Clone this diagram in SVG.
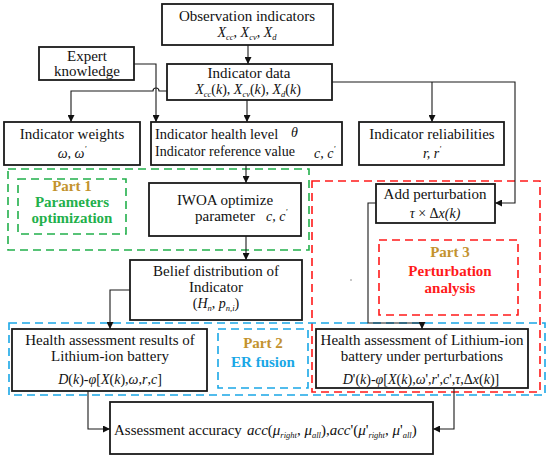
<svg xmlns="http://www.w3.org/2000/svg" width="550" height="457" viewBox="0 0 550 457">
<style>
.box{fill:#fff;stroke:#1a1a1a;stroke-width:1.8}
.ln{fill:none;stroke:#1a1a1a;stroke-width:1.1}
text{font-family:'Liberation Serif','DejaVu Serif',serif}
.t{font-size:15px;fill:#111}
.m{font-size:14px;font-style:italic;fill:#111}
.up{font-style:normal}
.s{font-size:8.5px}
.c{text-anchor:middle}
.b{font-size:15px;font-weight:bold;text-anchor:middle}
.gold{fill:#C3922E}
.dg{fill:none;stroke:#22B04B;stroke-width:1.6;stroke-dasharray:8 5}
.dr{fill:none;stroke:#FF1A1A;stroke-width:1.6;stroke-dasharray:8 5}
.db{fill:none;stroke:#1AA7E6;stroke-width:1.6;stroke-dasharray:8 5}
</style>
<defs>
<marker id="ah" viewBox="0 0 8 8" refX="8" refY="4" markerWidth="7" markerHeight="7" markerUnits="userSpaceOnUse" orient="auto">
<path d="M0,0 L8,4 L0,8 Z" fill="#111"/>
</marker>
</defs>
<rect width="550" height="457" fill="#fff"/>

<!-- dashed part regions -->
<g id="part1">
<rect class="dg" x="8" y="169" width="301" height="81"/>
<rect class="dg" x="18" y="179" width="108" height="55"/>
<text class="b gold" x="72" y="191">Part 1</text>
<text class="b" x="72" y="207" fill="#22B04B">Parameters</text>
<text class="b" x="72" y="223" fill="#22B04B">optimization</text>
</g>
<g id="part3">
<rect class="dr" x="312" y="181" width="228" height="211"/>
<rect class="dr" x="379" y="240" width="139" height="75"/>
<text class="b gold" x="450" y="257">Part 3</text>
<text class="b" x="450" y="276" fill="#FF1A1A">Perturbation</text>
<text class="b" x="450" y="293" fill="#FF1A1A">analysis</text>
</g>
<g id="part2">
<rect class="db" x="9" y="323" width="536" height="72"/>
<rect class="db" x="218" y="329" width="90" height="59"/>
<text class="b gold" x="263" y="348">Part 2</text>
<text class="b" x="263" y="367" fill="#1AA7E6">ER fusion</text>
</g>

<!-- connectors -->
<g id="connectors">
<path class="ln" d="M248,45 V64" marker-end="url(#ah)"/>
<path class="ln" d="M134,64 H156 V122" marker-end="url(#ah)"/>
<path class="ln" d="M167,91 H159 A3,3 0 0 0 153,91 H71 V122" marker-end="url(#ah)"/>
<path class="ln" d="M247,100 V122" marker-end="url(#ah)"/>
<path class="ln" d="M332,82 H515 V203 H495" marker-end="url(#ah)"/>
<path class="ln" d="M432,82 V122" marker-end="url(#ah)"/>
<path class="ln" d="M246,165 V183" marker-end="url(#ah)"/>
<path class="ln" d="M246,236 V260" marker-end="url(#ah)"/>
<path class="ln" d="M130,290 H110 V329" marker-end="url(#ah)"/>
<path class="ln" d="M376,203 H368 V323 H422 V329" marker-end="url(#ah)"/>
<path class="ln" d="M88,391 V429 H110" marker-end="url(#ah)"/>
<path class="ln" d="M454,388 V429 H433" marker-end="url(#ah)"/>
</g>

<g id="observation">
<rect class="box" x="162" y="4" width="171" height="41"/>
<text class="t c" x="247" y="21">Observation indicators</text>
<text class="m c" x="247" y="37">X<tspan class="s" dy="3">cc</tspan><tspan dy="-3" class="up">, </tspan>X<tspan class="s" dy="3">cv</tspan><tspan dy="-3" class="up">, </tspan>X<tspan class="s" dy="3">d</tspan></text>
</g>

<g id="expert">
<rect class="box" x="39" y="47" width="95" height="33"/>
<text class="t c" x="87" y="61">Expert</text>
<text class="t c" x="87" y="76">knowledge</text>
</g>

<g id="indicator-data">
<rect class="box" x="167" y="64" width="165" height="36"/>
<text class="t c" x="249" y="78">Indicator data</text>
<text class="m c" x="248" y="94">X<tspan class="s" dy="3">cc</tspan><tspan dy="-3" class="up">(</tspan><tspan>k</tspan><tspan class="up">), </tspan><tspan>X</tspan><tspan class="s" dy="3">cv</tspan><tspan dy="-3" class="up">(</tspan><tspan>k</tspan><tspan class="up">), </tspan><tspan>X</tspan><tspan class="s" dy="3">d</tspan><tspan dy="-3" class="up">(</tspan><tspan>k</tspan><tspan class="up">)</tspan></text>
</g>

<g id="weights">
<rect class="box" x="4" y="122" width="136" height="43"/>
<text class="t c" x="72" y="139">Indicator weights</text>
<text class="m c" x="72" y="158">ω, ω<tspan class="s" dy="-6">'</tspan></text>
</g>

<g id="health-level">
<rect class="box" x="151" y="122" width="191" height="43"/>
<text class="t" x="155" y="139" style="font-size:14.5px">Indicator health level</text>
<text class="m" x="291" y="137">θ</text>
<text class="t" x="155" y="156" style="font-size:14px">Indicator reference value</text>
<text class="m" x="314" y="158">c, c<tspan class="s" dy="-6">'</tspan></text>
</g>

<g id="reliabilities">
<rect class="box" x="359" y="122" width="145" height="43"/>
<text class="t c" x="432" y="139">Indicator reliabilities</text>
<text class="m c" x="432" y="158">r, r<tspan class="s" dy="-6">'</tspan></text>
</g>

<g id="iwoa">
<rect class="box" x="149" y="183" width="152" height="53"/>
<text class="t c" x="225" y="205">IWOA optimize</text>
<text class="t" x="195" y="221">parameter</text>
<text class="m" x="266" y="221">c, c<tspan class="s" dy="-6">'</tspan></text>
</g>

<g id="perturbation">
<rect class="box" x="376" y="184" width="119" height="39"/>
<text class="t c" x="435" y="199">Add perturbation</text>
<text class="m c" x="435" y="218">τ <tspan class="up">×</tspan> <tspan class="up">Δ</tspan>x(k)</text>
</g>

<g id="belief">
<rect class="box" x="130" y="260" width="172" height="60"/>
<text class="t c" x="216" y="276">Belief distribution of</text>
<text class="t c" x="216" y="292">Indicator</text>
<text class="m c" x="216" y="308"><tspan class="up">(</tspan>H<tspan class="s" dy="3">n</tspan><tspan dy="-3" class="up">, </tspan>p<tspan class="s" dy="3">n,i</tspan><tspan dy="-3" class="up">)</tspan></text>
</g>

<g id="health-results">
<rect class="box" x="12" y="329" width="195" height="62"/>
<text class="t c" x="110" y="345">Health assessment results of</text>
<text class="t c" x="110" y="361">Lithium-ion battery</text>
<text class="m c" x="110" y="384">D<tspan class="up">(</tspan>k<tspan class="up">)-</tspan>φ<tspan class="up">[</tspan>X<tspan class="up">(</tspan>k<tspan class="up">),</tspan>ω<tspan class="up">,</tspan>r<tspan class="up">,</tspan>c<tspan class="up">]</tspan></text>
</g>

<g id="health-perturbed">
<rect class="box" x="316" y="329" width="212" height="59"/>
<text class="t c" x="422" y="345">Health assessment of Lithium-ion</text>
<text class="t c" x="422" y="361">battery under perturbations</text>
<text class="m c" x="421" y="384">D<tspan class="up">'(</tspan>k<tspan class="up">)-</tspan>φ<tspan class="up">[</tspan>X<tspan class="up">(</tspan>k<tspan class="up">),</tspan>ω<tspan class="up">',</tspan>r<tspan class="up">',</tspan>c<tspan class="up">',</tspan>τ<tspan class="up">,Δ</tspan>x<tspan class="up">(</tspan>k<tspan class="up">)]</tspan></text>
</g>

<g id="accuracy">
<rect class="box" x="110" y="402" width="323" height="52"/>
<text class="t" x="114" y="435">Assessment accuracy</text>
<text class="m" x="247" y="435" style="font-size:15px">acc<tspan class="up">(</tspan>μ<tspan class="s" dy="3">right</tspan><tspan dy="-3" class="up">, </tspan>μ<tspan class="s" dy="3">all</tspan><tspan dy="-3" class="up">),</tspan>acc<tspan class="up">'(</tspan>μ<tspan class="up">'</tspan><tspan class="s" dy="3">right</tspan><tspan dy="-3" class="up">, </tspan>μ<tspan class="up">'</tspan><tspan class="s" dy="3">all</tspan><tspan dy="-3" class="up">)</tspan></text>
</g>

<circle cx="351" cy="280" r="0.7" fill="#666"/>
</svg>
